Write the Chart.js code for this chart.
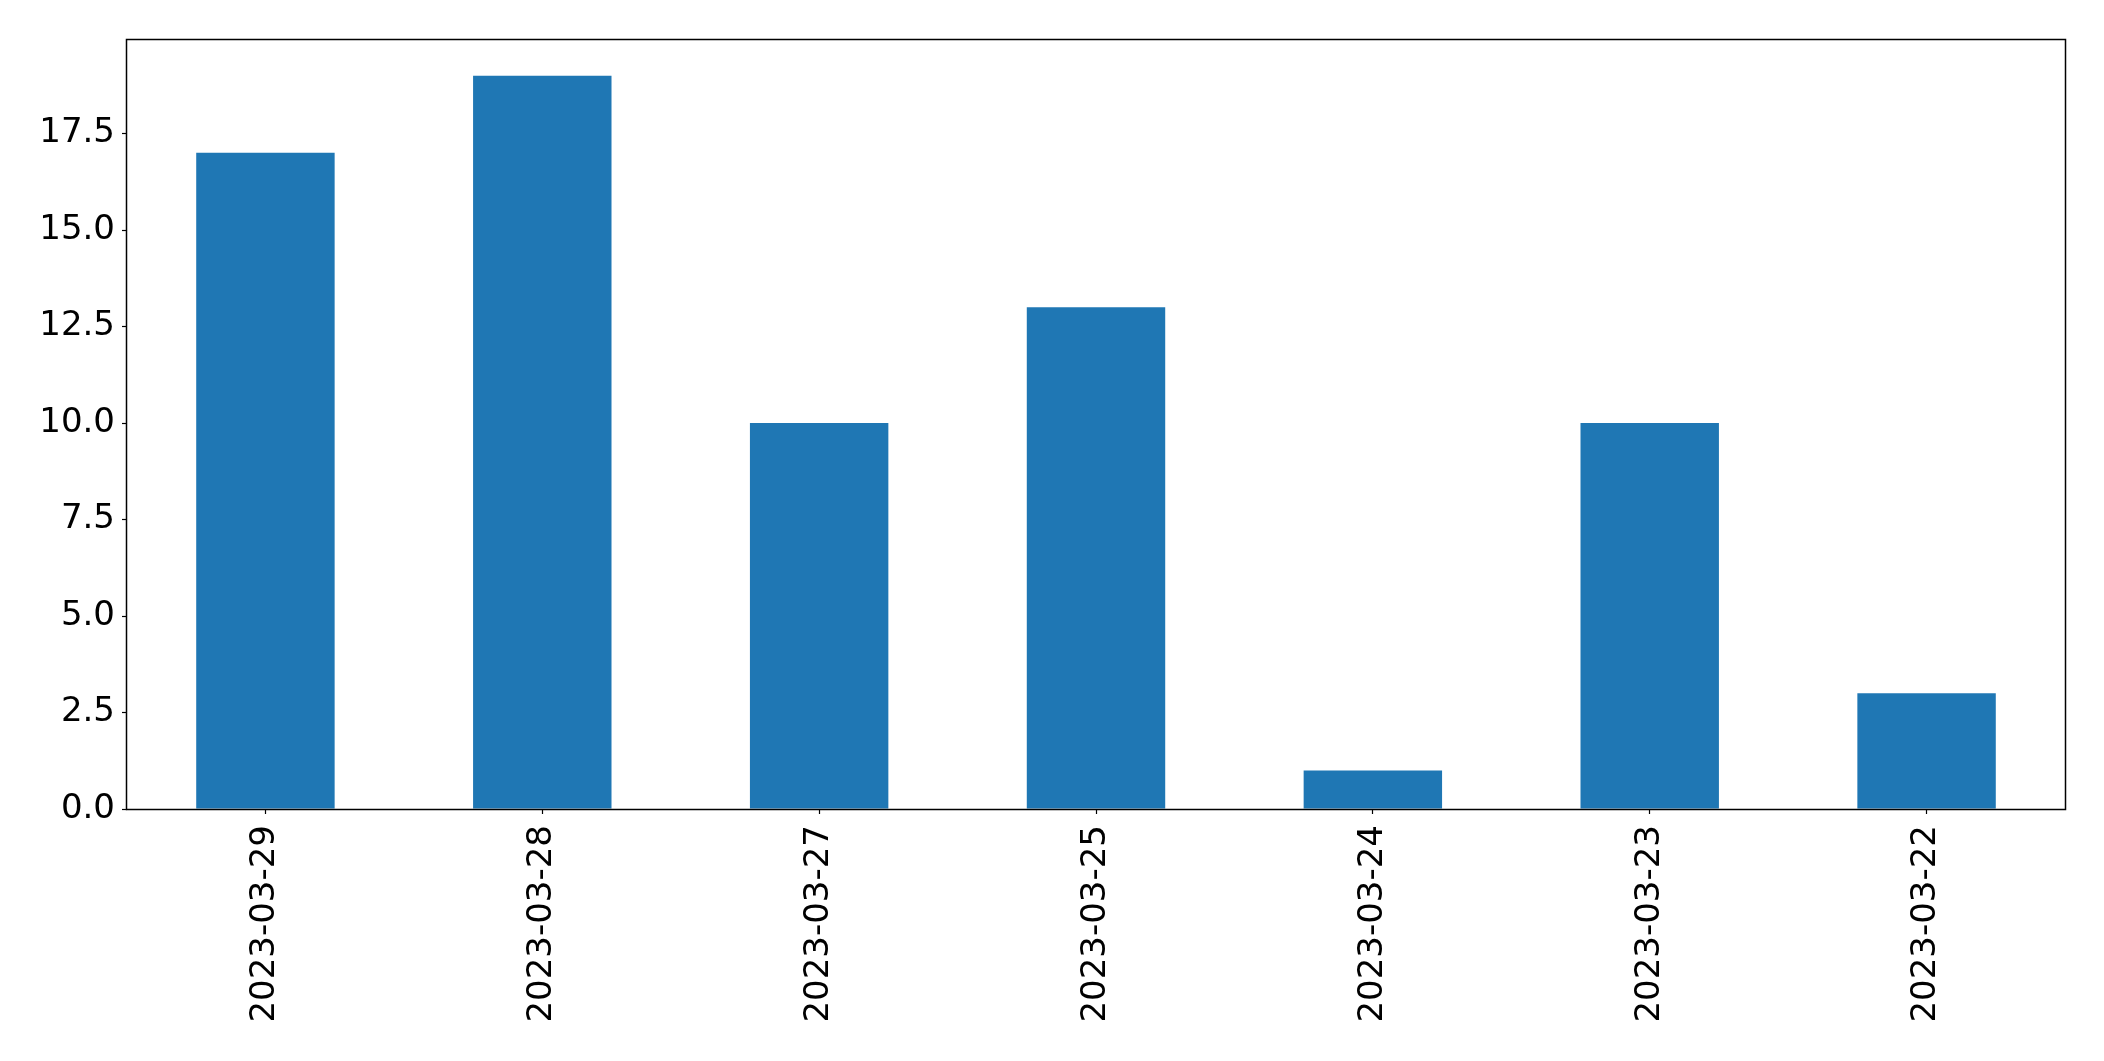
<!DOCTYPE html>
<html>
<head>
<meta charset="utf-8">
<script src="https://cdn.jsdelivr.net/npm/chart.js@4/dist/chart.umd.min.js"></script>
<style>
  html, body { margin: 0; padding: 0; background: #fff; }
  #wrap { width: 2104px; height: 1061px; }
</style>
</head>
<body>
<div id="wrap"><canvas id="barChart" width="2104" height="1061"></canvas></div>
<script>
const categories = ['2023-03-29', '2023-03-28', '2023-03-27', '2023-03-25', '2023-03-24', '2023-03-23', '2023-03-22'];
const counts = [17, 19, 10, 13, 1, 10, 3];
const yTickStep = 2.5;
const yMax = 19.95;

// box around the plot area, like matplotlib spines
const frame = {
    id: 'frame',
    afterDatasetsDraw(chart) {
        const a = chart.chartArea;
        const ctx = chart.ctx;
        const l = Math.round(a.left) - 0.5, t = Math.round(a.top) + 0.5;
        const r = Math.round(a.right) + 0.5, b = Math.round(a.bottom) + 0.5;
        ctx.save();
        ctx.strokeStyle = '#000';
        ctx.lineWidth = 1.5;
        ctx.strokeRect(l, t, r - l, b - t);
        ctx.restore();
    }
};

document.addEventListener('DOMContentLoaded', () => {
    Chart.defaults.font.family = '"DejaVu Sans", sans-serif';
    Chart.defaults.color = '#000';

    new Chart(document.getElementById('barChart'), {
        type: 'bar',
        data: {
            labels: categories,
            datasets: [{
                data: counts,
                backgroundColor: '#1f77b4',
                barPercentage: 0.5,
                categoryPercentage: 1.0
            }]
        },
        options: {
            responsive: false,
            animation: false,
            layout: { padding: { top: 39, right: 39, left: 0, bottom: 0 } },
            plugins: {
                legend: { display: false },
                tooltip: { enabled: false }
            },
            scales: {
                x: {
                    offset: true,
                    grid: { display: true, offset: false, drawOnChartArea: false, tickLength: 5, tickColor: '#000', tickWidth: 1.2 },
                    border: { display: false },
                    ticks: { font: { size: 34 }, minRotation: 90, maxRotation: 90, padding: 11, autoSkip: false },
                    afterFit(scale) { scale.height = 252; }
                },
                y: {
                    min: 0,
                    max: yMax,
                    grid: { display: true, drawOnChartArea: false, tickLength: 5, tickColor: '#000', tickWidth: 1.2 },
                    border: { display: false },
                    ticks: {
                        stepSize: yTickStep,
                        includeBounds: false,
                        font: { size: 34 },
                        padding: 7,
                        callback: v => v.toFixed(1)
                    },
                    afterFit(scale) { scale.width = 127; }
                }
            }
        },
        plugins: [frame]
    });
});
</script>
</body>
</html>
